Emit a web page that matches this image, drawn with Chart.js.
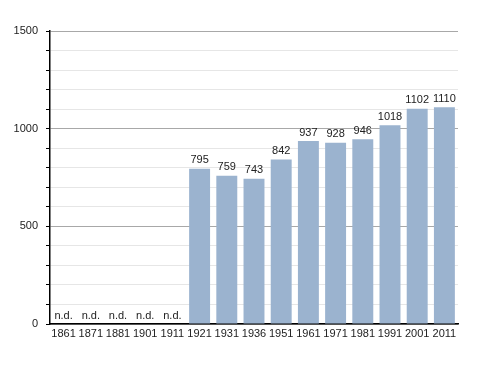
<!DOCTYPE html>
<html>
<head>
<meta charset="utf-8">
<script src="https://cdn.jsdelivr.net/npm/chart.js@4"></script>
<style>
  html, body { margin: 0; padding: 0; background: #fff; }
  #wrap { width: 488px; height: 373px; }
</style>
</head>
<body>
<div id="wrap"><canvas id="popChart" width="488" height="373"></canvas></div>
<script>
// census years and population (null = no data)
const years = ['1861', '1871', '1881', '1901', '1911', '1921', '1931', '1936', '1951', '1961', '1971', '1981', '1991', '2001', '2011'];
const population = [null, null, null, null, null, 795, 759, 743, 842, 937, 928, 946, 1018, 1102, 1110];
const yLabels = [0, 500, 1000, 1500];

const FONT = "'Liberation Sans', Arial, sans-serif";

// Draw value labels above bars, "n.d." where missing
const valueLabels = {
    id: 'valueLabels',
    afterDatasetsDraw(chart) {
        const ctx = chart.ctx;
        const meta = chart.getDatasetMeta(0);
        const yScale = chart.scales.y;
        const xScale = chart.scales.x;
        ctx.save();
        ctx.font = '11px ' + FONT;
        ctx.fillStyle = '#222';
        ctx.textAlign = 'center';
        ctx.textBaseline = 'bottom';
        population.forEach((v, i) => {
            const x = xScale.getPixelForValue(i);
            if (v === null) {
                ctx.fillText('n.d.', x, yScale.getPixelForValue(0) - 3);
            } else {
                ctx.fillText(String(v), meta.data[i].x, meta.data[i].y - 3);
            }
        });
        ctx.restore();
    }
};

new Chart(document.getElementById('popChart').getContext('2d'), {
    type: 'bar',
    data: {
        labels: years,
        datasets: [{
            data: population,
            backgroundColor: '#9bb3cf',
            borderWidth: 0,
            barPercentage: 0.77,
            categoryPercentage: 1.0
        }]
    },
    options: {
        responsive: false,
        animation: false,
        layout: { padding: { top: 31, right: 30, left: 0, bottom: 0 } },
        plugins: {
            legend: { display: false },
            tooltip: { enabled: false }
        },
        scales: {
            x: {
                grid: { display: false, drawTicks: false },
                border: { display: true, color: '#000', width: 1.5 },
                ticks: {
                    color: '#222',
                    font: { family: FONT, size: 11 },
                    padding: 3,
                    maxRotation: 0,
                    autoSkip: false
                },
                afterFit(scale) { scale.height = 49; }
            },
            y: {
                min: 0,
                max: 1500,
                border: { display: true, color: '#000', width: 1.5 },
                grid: {
                    color: ctx => (ctx.tick && ctx.tick.value % 500 === 0) ? '#a8a8a8' : '#e6e6e6',
                    tickColor: '#000',
                    tickLength: 4
                },
                ticks: {
                    stepSize: 100,
                    color: '#222',
                    font: { family: FONT, size: 11 },
                    padding: 8,
                    callback: v => yLabels.includes(v) ? String(v) : ''
                },
                afterFit(scale) { scale.width = 50; }
            }
        }
    },
    plugins: [valueLabels]
});
</script>
</body>
</html>
